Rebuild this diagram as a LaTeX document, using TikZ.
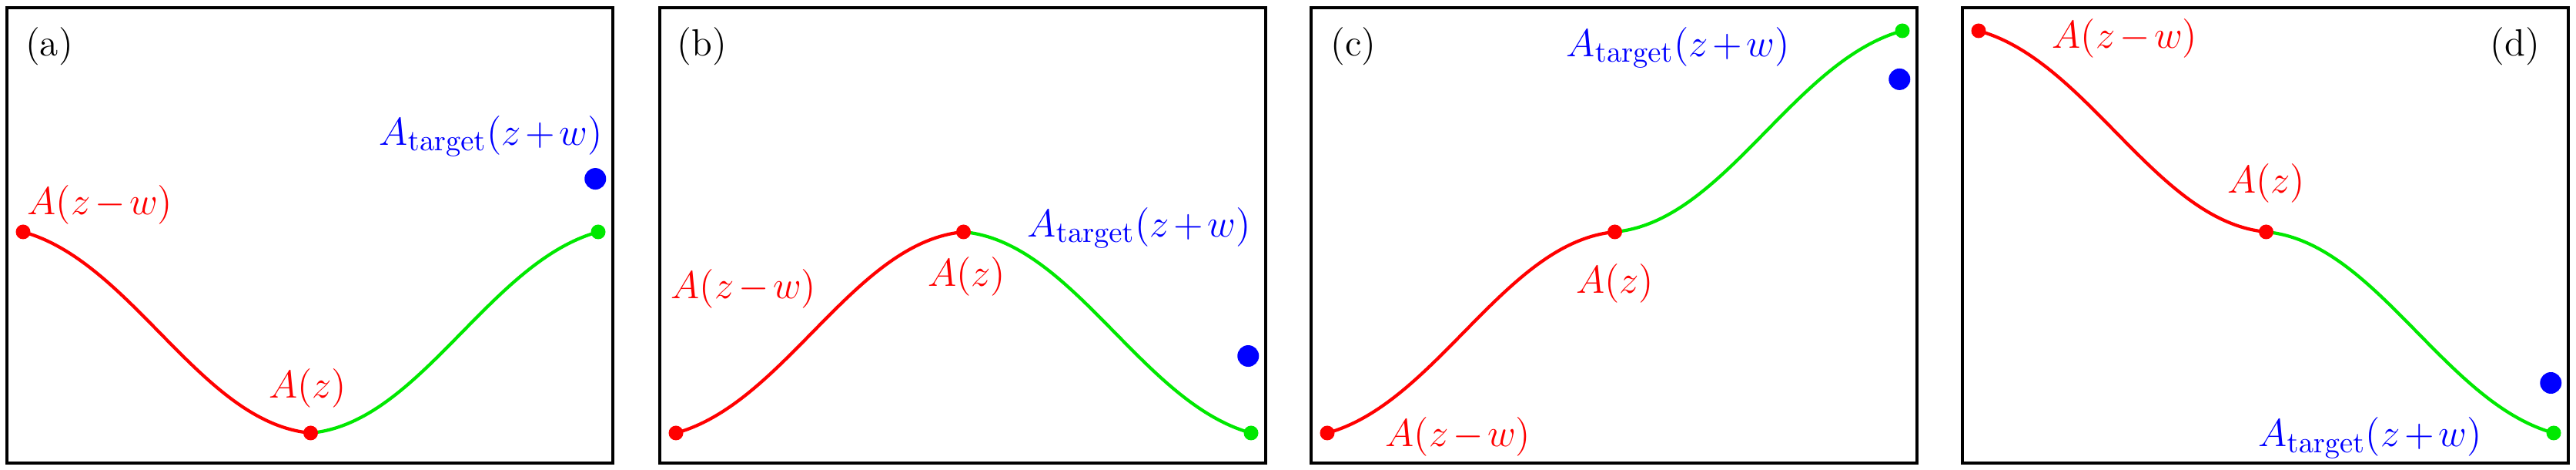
\documentclass[tikz,border=0pt]{standalone}
\usepackage{amsmath}
\usepackage{tikz}
\usetikzlibrary{positioning, backgrounds}
\definecolor{curvered}{HTML}{FF0000}
\definecolor{curvegreen}{HTML}{00E800}
\definecolor{targetblue}{HTML}{0000FF}
\medmuskip=2mu\relax

\begin{document}
\begin{tikzpicture}[
    frame/.style={draw=black, line width=1.1pt},
    dotR/.style={circle, fill=curvered,   inner sep=0pt, minimum size=0.19cm},
    dotG/.style={circle, fill=curvegreen, inner sep=0pt, minimum size=0.19cm},
    dotT/.style={circle, fill=targetblue, inner sep=0pt, minimum size=0.28cm},
    lineR/.style={draw=curvered,   line width=1.2pt},
    lineG/.style={draw=curvegreen, line width=1.2pt},
    lbl/.style={inner sep=0pt, font=\fontsize{15}{18}\selectfont},
    tag/.style={inner sep=0pt, font=\fontsize{14}{17}\selectfont},
  ]
  \useasboundingbox (0,0) rectangle (33.46,6.10);

  % panel / x origin / A(z-w) / A(z) / end / target
  \foreach \p/\ox/\yl/\ym/\yr/\yt in {a/0.30/1/0/1/1.264, b/8.78/0/1/0/0.383,
                                      c/17.24/0/1/2/1.759, d/25.70/2/1/0/0.249}
  {
    \begin{scope}[shift={(\ox,0.48)}, x=3.735cm, y=2.61cm]
      \draw[frame] (-0.056,-0.149) rectangle (2.051,2.115);
      \node[dotR] (\p-l) at (0,\yl) {};
      \node[dotR] (\p-m) at (1,\ym) {};
      \node[dotG] (\p-r) at (2,\yr) {};
      \node[dotT] (\p-t) at (1.99,\yt) {};
      \begin{scope}[on background layer]
        \draw[lineR] (\p-l.center) .. controls +(0.38,{0.15*(\ym-\yl)})
          and +(-0.38,{-0.05*(\ym-\yl)}) .. (\p-m.center);
        \draw[lineG] (\p-m.center) .. controls +(0.38,{0.05*(\yr-\ym)})
          and +(-0.38,{-0.15*(\yr-\ym)}) .. (\p-r.center);
      \end{scope}
    \end{scope}
  }

  % panel tags
  \node[tag] (a-tag) at (0.64,5.50) {(a)};
  \node[tag] (b-tag) at (9.12,5.50) {(b)};
  \node[tag] (c-tag) at (17.58,5.50) {(c)};
  \node[tag] (d-tag) at (32.67,5.50) {(d)};

  % (a)
  \node[lbl, text=curvered, above right=0.09cm and 0.05cm of a-l.center] (a-lw) {$A(z-w)$};
  \node[lbl, text=curvered, above=0.32cm of a-m.center, xshift=-0.04cm] (a-lm) {$A(z)$};
  \node[lbl, text=targetblue, above left=0.28cm and -0.10cm of a-t.center] (a-lt) {$A_{\mathrm{target}}(z+w)$};

  % (b)
  \node[lbl, text=curvered, above right=1.61cm and -0.07cm of b-l.center] (b-lw) {$A(z-w)$};
  \node[lbl, text=curvered, below=0.32cm of b-m.center, xshift=0.04cm] (b-lm) {$A(z)$};
  \node[lbl, text=targetblue, above left=1.39cm and -0.04cm of b-t.center] (b-lt) {$A_{\mathrm{target}}(z+w)$};

  % (c)
  \node[lbl, text=curvered, right=0.75cm of c-l.center, yshift=-0.05cm] (c-lw) {$A(z-w)$};
  \node[lbl, text=curvered, below=0.41cm of c-m.center] (c-lm) {$A(z)$};
  \node[lbl, text=targetblue, above left=0.14cm and 1.42cm of c-t.center] (c-lt) {$A_{\mathrm{target}}(z+w)$};

  % (d)
  \node[lbl, text=curvered, right=0.95cm of d-l.center, yshift=-0.10cm] (d-lw) {$A(z-w)$};
  \node[lbl, text=curvered, above=0.37cm of d-m.center] (d-lm) {$A(z)$};
  \node[lbl, text=targetblue, left=0.93cm of d-r.center, yshift=-0.06cm] (d-lt) {$A_{\mathrm{target}}(z+w)$};
\end{tikzpicture}
\end{document}
